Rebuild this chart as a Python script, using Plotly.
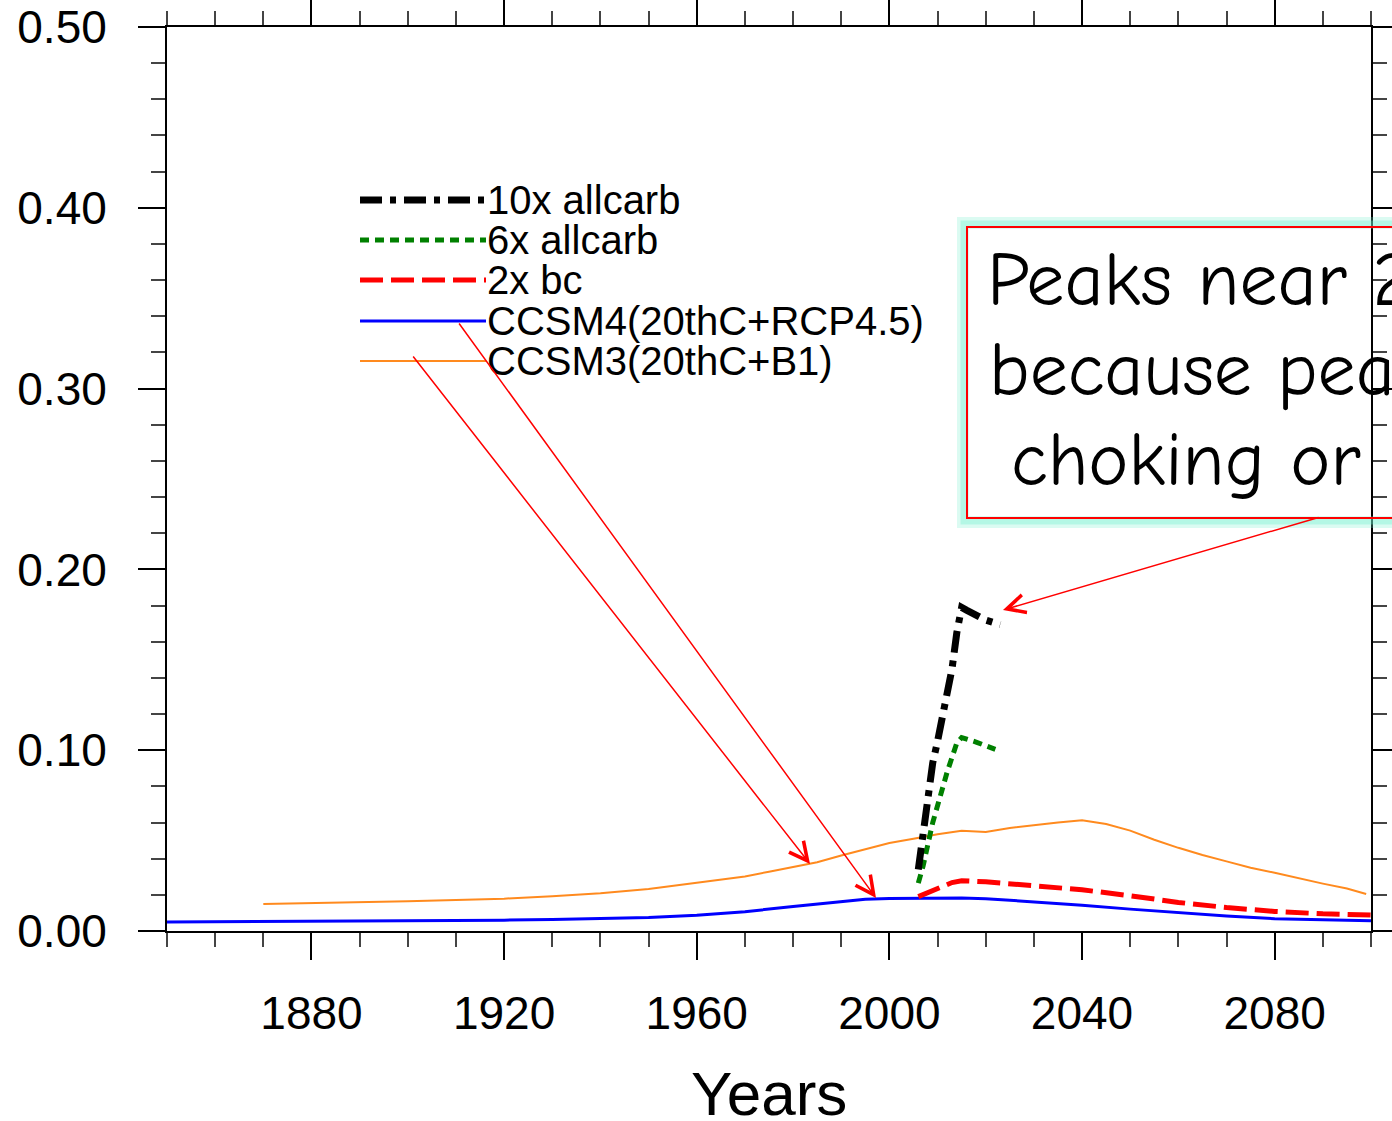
import plotly.graph_objects as go

# ---------------- data ----------------
ccsm4_years = [1850, 1860, 1870, 1880, 1890, 1900, 1910, 1920, 1930, 1940, 1950, 1960,
               1970, 1980, 1990, 1995, 2000, 2010, 2015, 2020, 2030, 2040, 2050, 2060,
               2070, 2080, 2090, 2100]
ccsm4_vals = [0.0050, 0.0051, 0.0052, 0.0053, 0.0054, 0.0056, 0.0058, 0.0060, 0.0063, 0.0068,
              0.0075, 0.0087, 0.0107, 0.0135, 0.0163, 0.0176, 0.0180, 0.0183, 0.0183, 0.0179,
              0.0163, 0.0143, 0.0121, 0.0101, 0.0083, 0.0068, 0.0061, 0.0057]

ccsm3_years = [1870, 1880, 1890, 1900, 1910, 1920, 1930, 1940, 1950, 1960, 1970, 1975,
               1980, 1985, 1990, 1995, 2000, 2005, 2010, 2015, 2020, 2025, 2030, 2035,
               2040, 2045, 2050, 2055, 2060, 2065, 2070, 2075, 2080, 2085, 2090, 2095, 2099]
ccsm3_vals = [0.0149, 0.0153, 0.0159, 0.0165, 0.0172, 0.0179, 0.0192, 0.0209, 0.0232, 0.0265,
              0.0302, 0.0328, 0.0353, 0.0380, 0.0418, 0.0452, 0.0487, 0.0510, 0.0535, 0.0555,
              0.0548, 0.0570, 0.0586, 0.0600, 0.0612, 0.0592, 0.0555, 0.0505, 0.0460, 0.0420,
              0.0385, 0.0350, 0.0322, 0.0290, 0.0262, 0.0235, 0.0205]

bc2x_years = [2006, 2008, 2010, 2013, 2015, 2020, 2030, 2040, 2050, 2060, 2070, 2080, 2090, 2100]
bc2x_vals = [0.0190, 0.0212, 0.0235, 0.0268, 0.0278, 0.0272, 0.0250, 0.0228, 0.0195, 0.0158,
             0.0130, 0.0108, 0.0095, 0.0088]

carb6x_years = [2006, 2007, 2009, 2012, 2014, 2015, 2018, 2022]
carb6x_vals = [0.0265, 0.0360, 0.0600, 0.0880, 0.1040, 0.1070, 0.1045, 0.1005]

carb10x_years = [2006, 2007, 2008, 2009, 2010, 2011, 2012, 2013, 2014, 2015, 2016, 2018, 2020, 2023]
carb10x_vals = [0.0340, 0.0550, 0.0760, 0.0930, 0.1050, 0.1180, 0.1300, 0.1450, 0.1650, 0.1790,
                0.1775, 0.1750, 0.1720, 0.1695]

legend_labels = ["10x allcarb", "6x allcarb", "2x bc", "CCSM4(20thC+RCP4.5)", "CCSM3(20thC+B1)"]
box_lines = ["Peaks near 2", "because pea", "choking or"]
x_title = "Years"

# ---------------- geometry helpers (pixel -> paper) ----------------
W, H = 1392, 1121
L, R, T, B = 167, 1371, 27, 931


def px(xp):
    return (xp - L) / (R - L)


def py(yp):
    return (B - yp) / (B - T)


def yr(xp):
    return 1850 + (xp - L) / (R - L) * 250


def val(yp):
    return (B - yp) / (B - T) * 0.5


FONT = "Liberation Sans, Arial, Helvetica, sans-serif"

STYLE_10X = dict(color="#000000", width=7, dash="22px,8px,6px,8px")
STYLE_6X = dict(color="#008000", width=5, dash="9px,6px")
STYLE_2X = dict(color="#ff0000", width=5, dash="23px,8px")
STYLE_C4 = dict(color="#0000ff", width=3)
STYLE_C3 = dict(color="#ff8a1e", width=2)

fig = go.Figure()
fig.add_trace(go.Scatter(x=ccsm3_years, y=ccsm3_vals, mode="lines", name=legend_labels[4],
                         line=STYLE_C3))
fig.add_trace(go.Scatter(x=ccsm4_years, y=ccsm4_vals, mode="lines", name=legend_labels[3],
                         line=STYLE_C4))
fig.add_trace(go.Scatter(x=bc2x_years, y=bc2x_vals, mode="lines", name=legend_labels[2],
                         line=STYLE_2X))
fig.add_trace(go.Scatter(x=carb6x_years, y=carb6x_vals, mode="lines", name=legend_labels[1],
                         line=STYLE_6X))
fig.add_trace(go.Scatter(x=carb10x_years, y=carb10x_vals, mode="lines", name=legend_labels[0],
                         line=STYLE_10X))

shapes = []
annotations = []

# manual legend (NCL style)
leg_styles = [STYLE_10X, STYLE_6X, STYLE_2X, STYLE_C4, STYLE_C3]
row_y = [200, 240, 280, 321, 361]
for lab, st, ry in zip(legend_labels, leg_styles, row_y):
    shapes.append(dict(type="line", xref="paper", yref="paper", x0=px(360), x1=px(486),
                       y0=py(ry), y1=py(ry), line=st))
    annotations.append(dict(xref="paper", yref="paper", x=px(486), y=py(ry), text=lab,
                            showarrow=False, xanchor="left", yanchor="middle",
                            font=dict(family=FONT, size=40, color="black"), borderpad=0))

# annotation box with glow
shapes.append(dict(type="rect", xref="paper", yref="paper", x0=px(963), x1=px(1430),
                   y0=py(223), y1=py(522), line=dict(color="rgba(110,240,205,0.25)", width=12),
                   layer="above"))
shapes.append(dict(type="rect", xref="paper", yref="paper", x0=px(964), x1=px(1430),
                   y0=py(224), y1=py(521), line=dict(color="rgba(110,240,205,0.35)", width=7),
                   layer="above"))
shapes.append(dict(type="rect", xref="paper", yref="paper", x0=px(967), x1=px(1430),
                   y0=py(227), y1=py(518), line=dict(color="#ff0000", width=2), layer="above"))
for txt, bx, by in zip(box_lines, [986, 988, 1010], [280, 370, 460]):
    annotations.append(dict(xref="paper", yref="paper", x=px(bx), y=py(by), text=txt,
                            showarrow=False, xanchor="left", yanchor="middle",
                            font=dict(family="Comic Sans MS, Comic Neue, Open Sans, sans-serif",
                                      size=76, color="black"), borderpad=0))

# axis title (as annotation for exact placement)
annotations.append(dict(xref="paper", yref="paper", x=px(769), y=py(1093), text=x_title,
                        showarrow=False, xanchor="center", yanchor="middle",
                        font=dict(family=FONT, size=62, color="black"), borderpad=0))

# arrows
arrows = [((412, 355), (810, 864)), ((458, 322), (876, 898)), ((1320, 517), (1003, 610))]
for (tx, ty), (hx, hy) in arrows:
    annotations.append(dict(xref="x", yref="y", axref="x", ayref="y",
                            x=yr(hx), y=val(hy), ax=yr(tx), ay=val(ty), text="",
                            showarrow=True, arrowhead=5, arrowsize=2.4, arrowwidth=1.5,
                            arrowcolor="#ff0000", standoff=0, startstandoff=0))

fig.update_layout(
    width=W, height=H,
    margin=dict(l=L, r=W - R, t=T, b=H - B, pad=0, autoexpand=False),
    paper_bgcolor="white", plot_bgcolor="white",
    showlegend=False,
    shapes=shapes, annotations=annotations,
    font=dict(family=FONT, color="black"),
)
fig.update_xaxes(
    range=[1850, 2100], showgrid=False, zeroline=False, automargin=False,
    showline=True, linecolor="black", linewidth=2, mirror="ticks",
    ticks="outside", ticklen=27, tickwidth=2, tickcolor="black",
    tick0=1880, dtick=40, tickfont=dict(size=46, family=FONT),
    ticklabelstandoff=14,
    minor=dict(ticks="outside", ticklen=14, tickwidth=1.5, tickcolor="#444444",
               tick0=1850, dtick=10, showgrid=False),
)
fig.update_yaxes(
    range=[0, 0.5], showgrid=False, zeroline=False, automargin=False,
    showline=True, linecolor="black", linewidth=2, mirror="ticks",
    ticks="outside", ticklen=27, tickwidth=2, tickcolor="black",
    tick0=0, dtick=0.1, tickformat=".2f", tickfont=dict(size=46, family=FONT),
    ticklabelstandoff=22,
    minor=dict(ticks="outside", ticklen=14, tickwidth=1.5, tickcolor="#444444",
               tick0=0, dtick=0.02, showgrid=False),
)

fig.write_html("out.html")
